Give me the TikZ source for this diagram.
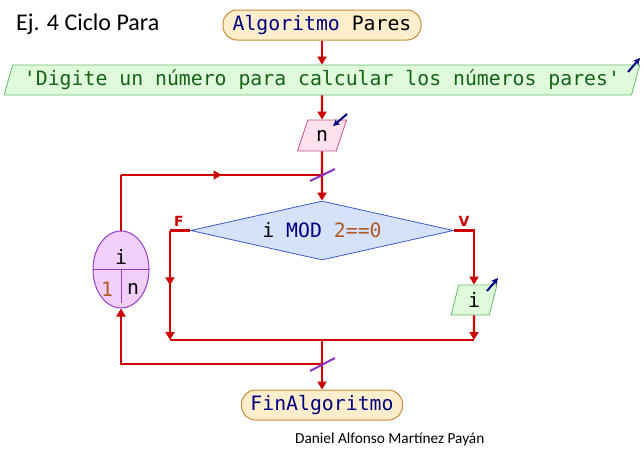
\documentclass[tikz,border=0pt]{standalone}
\usepackage{fontspec}
\newfontfamily\monof{DejaVu Sans Mono}
\newfontfamily\calf{Carlito}
\newfontfamily\labf{DejaVu Sans}
\usetikzlibrary{shapes.geometric,arrows.meta,decorations.markings,calc}
\definecolor{flow}{RGB}{204,0,0}
\definecolor{navytext}{RGB}{0,0,128}
\definecolor{browntext}{RGB}{176,90,40}
\definecolor{greentext}{RGB}{20,100,20}
\definecolor{termfill}{RGB}{255,238,204}
\definecolor{termline}{RGB}{200,140,60}
\definecolor{outfill}{RGB}{224,250,220}
\definecolor{outline}{RGB}{100,190,100}
\definecolor{infill}{RGB}{253,226,238}
\definecolor{inline}{RGB}{200,80,140}
\definecolor{decfill}{RGB}{213,226,250}
\definecolor{decline}{RGB}{60,90,200}
\definecolor{ellfill}{RGB}{240,208,250}
\definecolor{ellline}{RGB}{150,60,200}
\definecolor{slashcol}{RGB}{140,50,200}
\tikzset{
  mono/.style={font=\monof\fontsize{19.8}{22}\selectfont},
  term/.style={mono, draw=termline, fill=termfill, line width=1pt, rounded corners=14pt,
    minimum height=30pt, inner sep=0pt, text=navytext},
  para/.style={mono, trapezium, trapezium stretches=true, line width=0.8pt,
    minimum height=30pt, inner sep=0pt},
  outbox/.style={para, draw=outline, fill=outfill},
  inbox/.style={para, draw=inline, fill=infill},
  decbox/.style={mono, diamond, aspect=4.46, draw=decline, fill=decfill, line width=0.8pt,
    minimum width=263pt, minimum height=59pt, inner sep=0pt},
  loopbox/.style={ellipse, draw=ellline, fill=ellfill, line width=1pt,
    minimum width=56pt, minimum height=77pt, inner sep=0pt},
  flowline/.style={draw=flow, line width=2.2pt},
  tip/.style={-{Triangle[length=8pt,width=9pt]}},
  midtip/.style={postaction=decorate, decoration={markings,
    mark=at position 0.5 with {\arrow{Triangle[length=8pt,width=9pt]}}}},
  slash/.style={draw=slashcol, line width=2pt},
  icon/.style={draw=navytext, line width=2pt, -{Stealth[length=7pt,width=7pt]}},
  branchlab/.style={text=flow, font=\labf\bfseries\fontsize{14}{16}\selectfont, inner sep=0pt},
}
\begin{document}
\begin{tikzpicture}[x=1pt,y=-1pt]
\useasboundingbox (0,0) rectangle (644,455);
\node[anchor=base west, inner sep=0pt, font=\calf\fontsize{24}{28}\selectfont] (title) at (16,30) {Ej. 4 Ciclo Para};
\node[term, minimum width=198pt] (alg) at (322,25) {Algoritmo \textcolor{black}{Pares}};
\node[outbox, trapezium left angle=68.2, trapezium right angle=111.8, minimum width=636pt, text=greentext] (msg) at (322,80) {'Digite un número para calcular los números pares'};
\node[inbox, trapezium left angle=68.8, trapezium right angle=111.2, minimum width=49pt, minimum height=31pt] (n) at (322,135.5) {n};
\node[decbox] (dec) at (322,230.5) {i \textcolor{navytext}{MOD} \textcolor{browntext}{2==0}};
\node[outbox, trapezium left angle=78.7, trapezium right angle=101.3, minimum width=46pt] (iout) at (474,300) {i};
\node[loopbox] (ell) at (121,269.5) {};
\node[term, minimum width=161pt] (fin) at (322,405) {FinAlgoritmo};
\node[anchor=base west, inner sep=0pt, font=\calf\fontsize{15.3}{17}\selectfont] (author) at (295,443) {Daniel Alfonso Martínez Payán};

% loop variable contents
\draw[draw=ellline, line width=1pt] (ell.west) -- (ell.east);
\draw[draw=ellline, line width=1pt] (ell.center) -- ($(ell.center)!0.86!(ell.south)$);
\node[mono, inner sep=0pt] (lv) at (121,257) {i};
\node[mono, inner sep=0pt, text=browntext] (lstart) at (107,289) {1};
\node[mono, inner sep=0pt] (lend) at (133,289) {n};

% branch labels
\node[branchlab] (lf) at (179,221) {F};
\node[branchlab] (lt) at (464,221) {V};

% junction points
\coordinate (jtop) at (322,175);
\coordinate (ctop) at (121,175);
\coordinate (jl) at (170,340);
\coordinate (cl) at (170,230.5);
\coordinate (jr) at (474,340);
\coordinate (jbot) at (322,340);
\coordinate (jloop) at (322,364);

% connectors
\draw[flowline, tip] (alg) -- (msg);
\draw[flowline, tip] (msg) -- (n);
\draw[flowline, tip] (n) -- (dec);
\draw[flowline] (ell.north) -- (ctop);
\draw[flowline, midtip] (ctop) -- (jtop);
\draw[flowline] (dec.west) -- (cl);
\draw[flowline, tip, midtip] (cl) -- (jl);
\draw[flowline, tip] (dec.east) -| (iout.north);
\draw[flowline, tip] (iout.south) -- (jr);
\draw[flowline] (jl) -- (jr);
\draw[flowline, tip] (jbot) -- (fin);
\draw[flowline, tip] (jloop) -| (ell.south);

% loop markers
\draw[slash] ($(jtop)+(-12,6)$) -- ($(jtop)+(13,-6)$);
\draw[slash] ($(jloop)+(-12,7)$) -- ($(jloop)+(13,-6)$);

% input/output icons
\draw[icon] (628,72) -- (640,58);
\draw[icon] (347,114) -- (333,126);
\draw[icon] (487,291) -- (498,278);
\end{tikzpicture}
\end{document}
